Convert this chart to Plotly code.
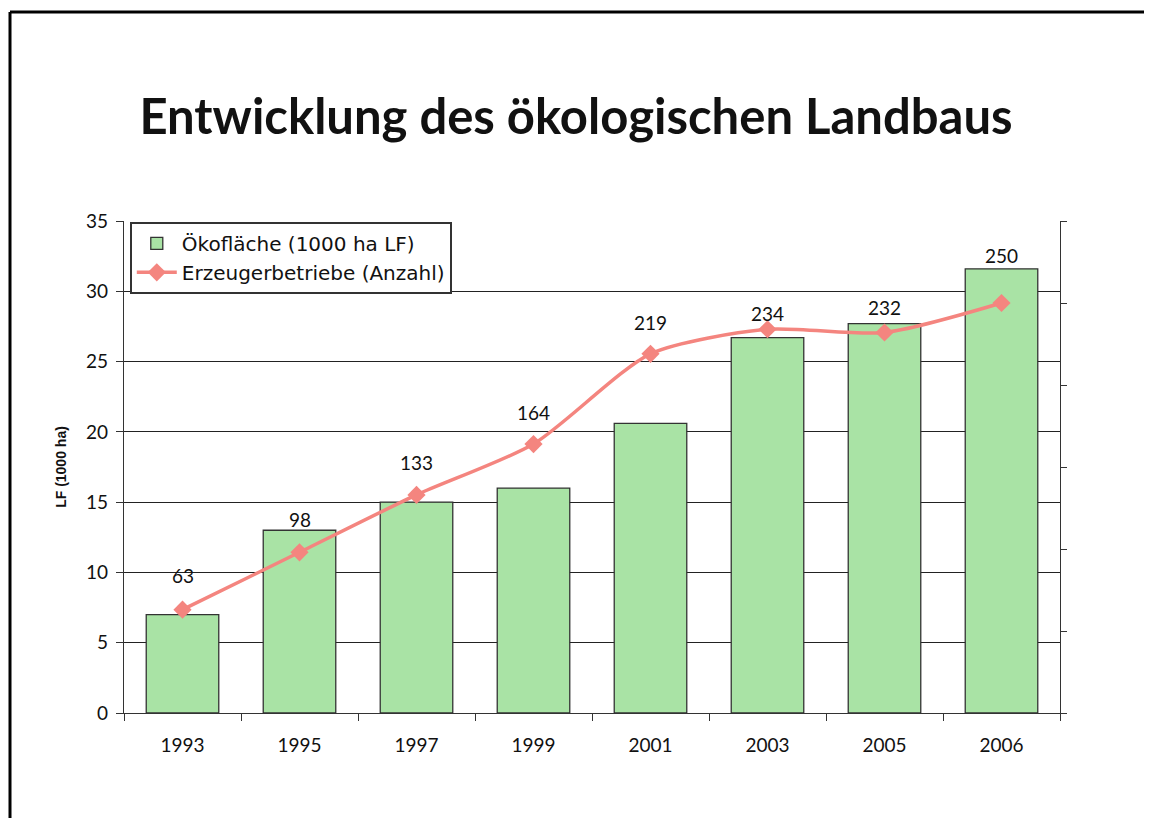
import plotly.graph_objects as go

years = ["1993", "1995", "1997", "1999", "2001", "2003", "2005", "2006"]
flaeche = [7.0, 13.0, 15.0, 16.0, 20.6, 26.7, 27.7, 31.6]
betriebe = [63, 98, 133, 164, 219, 234, 232, 250]

# vertical offsets (px) of the value labels above their markers
label_shift = [34, 33, 32, 32, 31, 16, 25, 48]

font_main = "Lato, 'Open Sans', sans-serif"

# the page body adds an 8px margin; compensate so the figure lands like the reference
PL, PT = 116, 213          # plot area left / top in figure coords
PW, PH = 936, 492          # plot area width / height

fig = go.Figure()
fig.add_trace(go.Bar(
    x=years, y=flaeche, name="Ökofläche (1000 ha LF)",
    marker=dict(color="#a9e3a5", line=dict(color="#333333", width=1.3)),
    yaxis="y",
))
fig.add_trace(go.Scatter(
    x=years, y=betriebe, name="Erzeugerbetriebe (Anzahl)",
    mode="lines+markers", yaxis="y2",
    line=dict(color="#f4857f", width=3.5, shape="spline", smoothing=0.7),
    marker=dict(symbol="diamond", size=14, color="#f4857f"),
))
for i, (v, s) in enumerate(zip(betriebe, label_shift)):
    fig.add_annotation(x=i, y=v, xref="x", yref="y2", text=str(v), showarrow=False,
                       yshift=s, font=dict(size=19, color="#111111", family=font_main))

fig.update_layout(
    width=1152, height=818, autosize=False,
    paper_bgcolor="white", plot_bgcolor="white",
    margin=dict(l=PL, r=1152 - PL - PW, t=PT, b=818 - PT - PH, autoexpand=False),
    title=dict(text="<b>Entwicklung des ökologischen Landbaus</b>",
               x=(576 - 8) / 1152, xanchor="center", xref="container",
               y=1 - (117 - 8) / 818, yanchor="middle", yref="container",
               font=dict(size=49, color="#111111", family=font_main)),
    font=dict(family=font_main, color="#111111"),
    bargap=0.38,
    showlegend=True,
    legend=dict(x=0.0064, y=0.998, xanchor="left", yanchor="top",
                bgcolor="white", bordercolor="#333333", borderwidth=1.8,
                font=dict(size=20, family="DejaVu Sans, sans-serif"), tracegroupgap=0,
                itemwidth=40),
    xaxis=dict(type="category", range=[-0.5, 7.5], showline=True, linecolor="#333333", linewidth=1.2,
               ticks="outside", ticklen=7, tickcolor="#333333", tickson="boundaries",
               tickfont=dict(size=19, family=font_main), ticklabelstandoff=15,
               tickangle=0, showgrid=False),
    yaxis=dict(range=[0, 35], dtick=5, showline=True, linecolor="#333333", linewidth=1.2,
               ticks="outside", ticklen=7, tickcolor="#333333",
               showgrid=True, gridcolor="#222222", gridwidth=1,
               tickfont=dict(size=19, family=font_main), ticklabelstandoff=4,
               title=dict(text="<b>LF (1000 ha)</b>", standoff=16,
                          font=dict(size=14, family="Liberation Sans, Arial, sans-serif")),
               zeroline=False),
    yaxis2=dict(range=[0, 300], dtick=50, overlaying="y", side="right",
                showline=True, linecolor="#333333", linewidth=1.2,
                ticks="outside", ticklen=6, tickcolor="#333333",
                showticklabels=False, showgrid=False, zeroline=False),
)

# outer slide frame (top and left edges), figure coords (2, 4)
fy = (818 - (818 - PT - PH) - 4) / PH
fx = (2 - PL) / PW
fig.add_shape(type="line", xref="paper", yref="paper",
              x0=fx, x1=1.2, y0=fy, y1=fy, line=dict(color="black", width=3))
fig.add_shape(type="line", xref="paper", yref="paper",
              x0=fx, x1=fx, y0=fy, y1=-0.3, line=dict(color="black", width=3))

fig.write_html("out.html")
